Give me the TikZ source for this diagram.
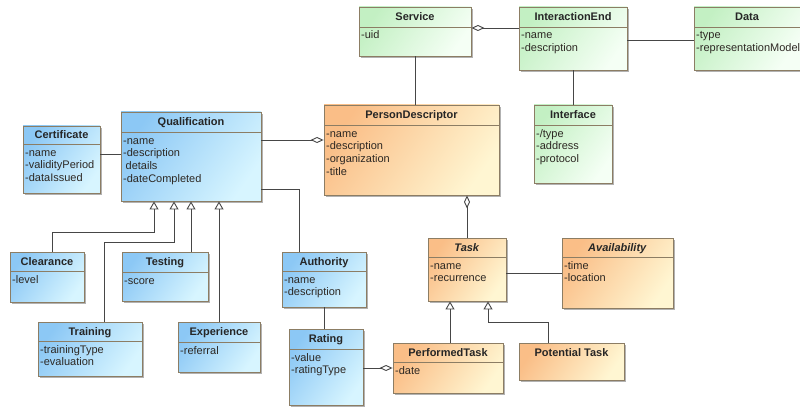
\documentclass[tikz,border=0pt]{standalone}
\usepackage{fontspec}
\setmainfont{Liberation Sans}
\usetikzlibrary{arrows.meta,fit,shadows,calc}
\definecolor{bdr}{RGB}{140,125,100}
\definecolor{lnc}{RGB}{70,70,70}
\definecolor{txt}{RGB}{45,40,35}
\definecolor{bluL}{RGB}{140,200,245}
\definecolor{bluR}{RGB}{215,245,255}
\definecolor{orgL}{RGB}{250,190,135}
\definecolor{orgR}{RGB}{255,246,210}
\definecolor{grnL}{RGB}{195,240,195}
\definecolor{grnR}{RGB}{245,255,245}
\tikzset{
  cls/.style={draw=bdr, line width=0.9pt, inner sep=0pt,
    drop shadow={shadow xshift=2pt, shadow yshift=-2pt, fill=black, opacity=0.3}},
  blu/.style={cls, left color=bluL, right color=bluR, shading angle=55},
  org/.style={cls, left color=orgL, right color=orgR, shading angle=55},
  grn/.style={cls, left color=grnL, right color=grnR, shading angle=55},
  sepline/.style={draw=bdr, line width=0.9pt},
  ttl/.style={font=\fontsize{11}{13}\selectfont\bfseries, text=black!85,
    text height=7.9pt, text depth=0pt, inner sep=0pt},
  attr/.style={font=\fontsize{11}{13}\selectfont, text=txt, anchor=base west, inner sep=0pt},
  conn/.style={draw=lnc, line width=0.9pt},
  agg/.style={conn, -{Diamond[open, length=13pt, width=6pt]}},
  aggS/.style={conn, {Diamond[open, length=13pt, width=6pt]}-},
  gen/.style={conn, -{Triangle[open, length=8pt, width=9pt]}},
}
\newcommand\umlclass[9]{%
  \node[#9, fit={(#2,#3) (#4,#5)}] (#1) {};
  \draw[sepline] (#2,#6) -- (#4,#6);
  \path (#2,#3) -- (#4,#6) node[midway, ttl] {#7};
  \foreach \atxt [count=\i] in {#8} {\node[attr] at ({#2+2},{#6-0.7+12.7*\i}) {\atxt};}
}
\begin{document}
\begin{tikzpicture}[x=1pt,y=-1pt]
\useasboundingbox[fill=white] (0,0) rectangle (800,409);
% classes
\umlclass{svc}{359}{7}{471}{56}{27}{Service}{-uid}{grn}
\umlclass{ie}{519}{7}{627}{70}{27}{InteractionEnd}{-name,-description}{grn}
\umlclass{data}{694}{7}{800}{70}{27}{Data}{-type,-representationModel}{grn}
\umlclass{iface}{534}{105}{612}{183}{125}{Interface}{-/type,-address,-protocol}{grn}
\umlclass{pd}{324}{105}{499}{195}{125}{PersonDescriptor}{-name,-description,-organization,-title}{org}
\umlclass{qual}{121}{112}{261}{201}{132}{Qualification}{-name,-description,{\hspace{2.5pt}details},-dateCompleted}{blu}
\umlclass{cert}{23}{126}{100}{193}{144}{Certificate}{-name,-validityPeriod,-dataIssued}{blu}
\umlclass{clr}{10}{252}{84}{302}{271}{Clearance}{-level}{blu}
\umlclass{tst}{122}{252}{208}{301}{272}{Testing}{-score}{blu}
\umlclass{trn}{38}{322}{142}{376}{341}{Training}{-trainingType,-evaluation}{blu}
\umlclass{exp}{178}{322}{260}{372}{342}{Experience}{-referral}{blu}
\umlclass{auth}{282}{252}{366}{307}{271}{Authority}{-name,-description}{blu}
\umlclass{rat}{289}{329}{363}{405}{349}{Rating}{-value,-ratingType}{blu}
\umlclass{task}{428}{238}{506}{301}{257}{\textit{Task}}{-name,-recurrence}{org}
\umlclass{avail}{562}{238}{673}{308}{257}{\textit{Availability}}{-time,-location}{org}
\umlclass{ptask}{393}{343}{503}{393}{362}{PerformedTask}{-date}{org}
\node[org, fit={(519,343) (624,380)}] (pot) {};
\path (pot.north west) -- ($(pot.north east)+(0,19)$) node[midway, ttl] {Potential Task};
% associations
\draw[aggS] (svc.east |- 0,28) -- (ie.west |- 0,28);
\draw[conn] (ie.east |- 0,40) -- (data.west |- 0,40);
\draw[conn] (svc.south) -- (svc.south |- pd.north);
\draw[conn] (ie.south) -- (ie.south |- iface.north);
\draw[agg] (qual.east |- 0,140) -- (pd.west |- 0,140);
\draw[conn] (cert.east |- 0,154) -- (qual.west |- 0,154);
\draw[conn] (qual.east |- 0,189) -| ($(auth.north west)+(18,0)$);
\draw[conn] (auth.south) -- (auth.south |- rat.north);
\draw[agg] (rat.east |- 0,368) -- (ptask.west |- 0,368);
\draw[aggS] (task.north |- pd.south) -- (task.north);
\draw[conn] (task.east |- 0,273) -- (avail.west |- 0,273);
% generalizations
\draw[gen] (clr.north -| 52,0) |- (154,232) -- (qual.south -| 154,0);
\draw[gen] (trn.north -| 104,0) |- (174,242) -- (qual.south -| 174,0);
\draw[gen] (tst.north -| 191,0) -- (qual.south -| 191,0);
\draw[gen] (exp.north -| 219,0) -- (qual.south -| 219,0);
\draw[gen] (ptask.north -| 450,0) -- (task.south -| 450,0);
\draw[gen] (pot.north -| 548,0) |- (488,322) -- (task.south -| 488,0);
\end{tikzpicture}
\end{document}
